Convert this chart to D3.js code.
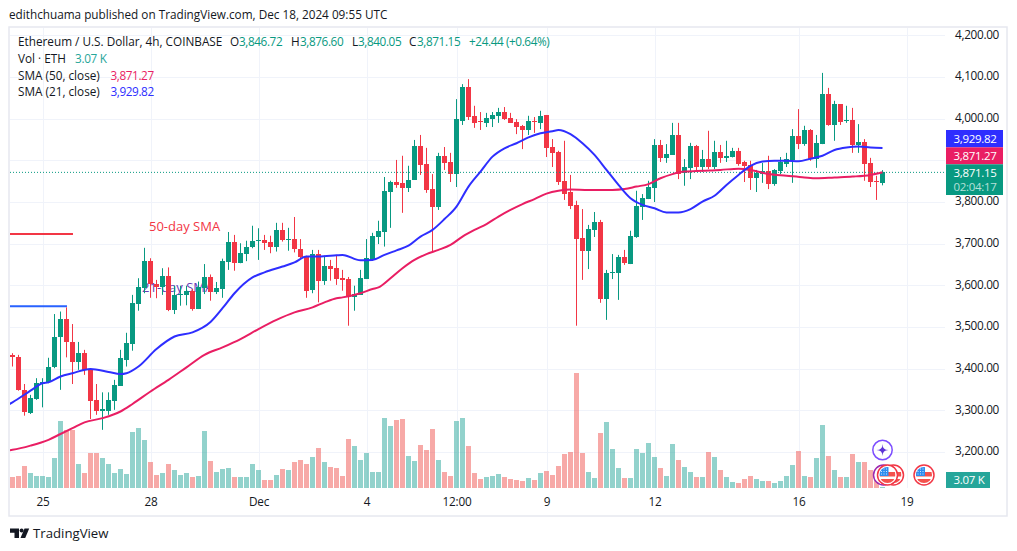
<!DOCTYPE html>
<html><head><meta charset="utf-8">
<script src="https://cdn.jsdelivr.net/npm/d3@7"></script>
<style>
html,body{margin:0;padding:0;background:#fff}
svg{display:block}
text{font-family:"Open Sans",sans-serif;font-size:11.75px}
</style></head><body>
<svg id="c" width="1017" height="551"></svg>
<script>
const opens=[3433,3428,3349,3293,3327,3363,3367,3403,3475,3519,
3464,3415,3438,3399,3325,3297,3299,3323,3359,3421,
3460,3556,3594,3659,3603,3595,3623,3541,3576,3577,
3587,3543,3594,3620,3584,3591,3656,3704,3654,3675,
3691,3707,3709,3704,3692,3733,3709,3711,3687,3671,
3589,3675,3611,3647,3642,3618,3615,3572,3577,3615,
3661,3716,3728,3824,3848,3846,3834,3853,3935,3891,
3831,3788,3911,3896,3867,3995,4076,4007,3995,3990,
3999,4007,4016,4002,3992,3983,3973,3995,3990,4009,
3932,3920,3851,3824,3793,3714,3683,3733,3752,3567,
3630,3630,3668,3651,3716,3788,3807,3834,3937,3906,
3913,3961,3870,3882,3935,3884,3903,3884,3920,3906,
3908,3923,3896,3889,3858,3867,3875,3843,3875,3891,
3901,3959,3939,3973,3903,3939,4059,3985,4035,3995,
3997,3937,3944,3894,3851,3846.72];
const highs=[3437,3433,3363,3337,3377,3377,3426,3531,3537,3547,
3507,3464,3445,3399,3363,3343,3343,3373,3445,3486,
3577,3617,3690,3665,3613,3641,3643,3599,3599,3599,
3591,3609,3651,3626,3608,3664,3728,3721,3701,3707,
3743,3737,3721,3719,3750,3750,3738,3764,3711,3671,
3685,3685,3671,3661,3673,3637,3620,3599,3637,3711,
3726,3755,3860,3851,3901,3911,3887,3949,3961,3930,
3867,3918,3932,3918,4047,4083,4095,4031,4016,4014,
4016,4026,4028,4014,3999,3985,4007,4004,4019,4009,
3951,3923,3947,3865,3803,3783,3745,3776,3757,3637,
3675,3673,3685,3731,3827,3819,3851,3951,3949,3939,
3990,3990,3903,3942,3937,3925,3971,3947,3937,3947,
3930,3930,3899,3899,3877,3894,3911,3879,3908,3918,
3975,4023,3983,3975,3961,4110,4074,4043,4035,4031,
4026,3987,3951,3906,3863,3876.60];
const lows=[3405,3347,3287,3291,3325,3307,3365,3401,3349,3427,
3363,3397,3385,3279,3289,3253,3289,3301,3359,3405,
3443,3539,3581,3570,3569,3577,3538,3531,3551,3552,
3539,3543,3579,3563,3579,3570,3637,3635,3653,3658,
3689,3661,3685,3677,3681,3705,3683,3679,3663,3570,
3581,3559,3601,3611,3601,3587,3503,3539,3577,3615,
3659,3699,3693,3738,3834,3774,3824,3853,3865,3822,
3680,3781,3877,3848,3836,3985,3997,3978,3973,3980,
3980,3990,3997,3990,3963,3927,3961,3966,3975,3908,
3884,3841,3805,3783,3503,3613,3639,3716,3558,3517,
3615,3565,3649,3651,3714,3757,3807,3800,3896,3894,
3913,3855,3839,3855,3872,3872,3879,3879,3894,3896,
3907,3887,3848,3829,3824,3846,3831,3839,3867,3884,
3846,3927,3935,3899,3882,3939,3983,3947,3985,3990,
3918,3918,3851,3836,3805,3840.05];
const closes=[3427,3349,3295,3330,3366,3367,3404,3476,3519,3463,
3415,3438,3396,3323,3297,3303,3325,3361,3426,3462,
3558,3596,3659,3603,3595,3623,3541,3577,3580,3587,
3543,3596,3620,3584,3594,3659,3704,3654,3678,3692,
3707,3709,3702,3692,3733,3709,3711,3687,3668,3587,
3675,3611,3647,3639,3615,3613,3572,3579,3618,3666,
3719,3731,3827,3848,3841,3834,3853,3935,3889,3829,
3788,3911,3894,3867,3999,4076,4004,3990,3992,4002,
4009,4016,3999,3990,3980,3973,3995,3992,4007,3930,
3918,3848,3819,3791,3711,3683,3735,3752,3567,3630,
3632,3668,3654,3719,3791,3810,3836,3937,3906,3915,
3961,3867,3884,3935,3884,3903,3884,3920,3906,3911,
3923,3891,3887,3858,3870,3875,3843,3877,3896,3903,
3959,3939,3973,3903,3942,4059,3985,4035,3992,3997,
3937,3944,3891,3848,3848,3871.15];
const volumes=[28,31,55,38,30,30,28,75,168,145,
145,60,38,88,88,75,60,38,48,35,
140,150,120,65,33,38,60,45,33,38,
28,30,143,68,40,48,50,28,28,28,
60,45,20,20,33,48,45,65,70,60,
78,100,65,53,50,30,123,105,70,88,
40,40,175,155,170,173,80,68,108,95,
148,70,40,30,168,175,105,38,23,28,
30,35,28,23,20,18,25,20,38,43,
33,55,85,90,288,88,40,25,138,165,
98,50,25,25,98,88,113,78,50,30,
110,70,53,40,28,28,90,78,45,28,
15,13,23,30,23,18,18,13,18,30,
58,93,30,28,75,158,80,45,28,28,
85,65,65,45,45,3.07];
const sma21Index=[-1,0,3,5,6,8,10,13,16,18,19,21,24,27,30,33,35,37,40,42,45,47,49,51,54,55,58,60,62,64,66,68,70,72,74,76,78,80,82,84,86,88,90,91,93,95,97,99,101,103,105,107,109,111,113,115,117,119,121,123,125,127,129,131,133,135,137,139,141,143,145];
const sma21=[3311,3319,3347,3365,3367,3381,3389,3399,3392,3387,3389,3405,3447,3477,3487,3512,3545,3581,3619,3631,3645,3655,3669,3669,3672,3673,3660,3661,3673,3684,3695,3717,3733,3759,3789,3837,3873,3909,3929,3941,3955,3965,3970,3973,3963,3941,3913,3877,3841,3809,3793,3785,3775,3775,3783,3801,3815,3841,3865,3887,3897,3899,3899,3898,3904,3911,3925,3931,3933,3931,3929.82];
const sma50Index=[-1,0,3,6,8,10,12,15,18,20,23,26,29,32,35,38,41,44,47,50,52,54,55,58,60,61,63,65,67,69,71,73,75,77,79,81,83,85,87,89,91,93,96,98,100,102,104,106,108,110,112,115,118,121,123,126,129,132,134,137,140,143,145];
const sma50=[3203,3205,3215,3229,3243,3257,3271,3281,3297,3315,3345,3373,3403,3433,3451,3471,3495,3517,3535,3547,3559,3569,3571,3581,3591,3595,3617,3641,3661,3675,3685,3697,3717,3733,3747,3765,3781,3795,3807,3820,3827,3830,3829,3829,3829,3831,3837,3843,3857,3867,3873,3875,3877,3880,3877,3867,3863,3859,3857,3859,3861,3865,3871.27];
const timeTickIndex=[5,23,41,59,74,89,107,131,149];
const timeTickLabels=["25","28","Dec","4","12:00","9","12","16","19"];
const priceTicks=[4200,4100,4000,3900,3800,3700,3600,3500,3400,3300,3200];
const hiddenPriceLabels=[3900];
const trendLines=[{label:"50-day SMA",price:3723,from:-1,to:10.08,labelIndex:22.75,labelPrice:3731,color:"#F23645",text:"#F23645"},
                  {label:"21-day SMA",price:3550,from:-1,to:9.08,labelIndex:21.6,labelPrice:3584,color:"#2962FF",text:"#673AB7"}];
const headerText="edithchuama published on TradingView.com, Dec 18, 2024 09:55 UTC";
const legendTitle="Ethereum / U.S. Dollar, 4h, COINBASE";
const ohlcLetters=["O","H","L","C"];
const ohlcValues=["3,846.72","3,876.60","3,840.05","3,871.15"];
const ohlcChange="+24.44 (+0.64%)";
const volLabel="Vol · ETH", volValue="3.07 K";
const smaLabels=["SMA (50, close)","SMA (21, close)"];
const smaValues=["3,871.27","3,929.82"];
const countdown="02:04:17";

const GREEN="#089981",RED="#F23645",VG="rgba(38,166,154,.5)",VR="rgba(239,83,80,.5)";
const BLUE="#2E2EFF",PINK="#E91E63",GRID="#F0F3FA",INK="#131722";
const L=10,R=945,T=28,B=488;
const svg=d3.select("#c");
const x=d3.scaleLinear().domain([0,145]).range([12.5,882.5]);
const y=d3.scaleLinear().domain([3800,4200]).range([202,35.4]);
const v=d3.scaleLinear().domain([0,288]).range([B,373]);
const n=closes.length,I=d3.range(n);
const defs=svg.append("defs");
defs.append("clipPath").attr("id","pane").append("rect").attr("x",L).attr("y",T).attr("width",R-L).attr("height",B-T+1);

// frame
svg.append("rect").attr("x",9).attr("y",27).attr("width",998).attr("height",489).attr("fill","#fff").attr("stroke","#E6E8EF").attr("stroke-width",1.5);

// grid + axes
const gx=svg.append("g").attr("transform",`translate(0,${B})`)
  .call(d3.axisBottom(x).tickValues(timeTickIndex).tickSize(B-T).tickPadding(7).tickFormat((d,i)=>timeTickLabels[i]));
gx.select(".domain").remove();
gx.selectAll("line").attr("y2",-(B-T)).attr("stroke",GRID).attr("shape-rendering","crispEdges");
gx.selectAll("text").attr("y",14.5).attr("dy",".32em").attr("fill",INK).style("font-size","11.75px").style("letter-spacing","-.2px");
const gy=svg.append("g").attr("transform",`translate(${R},0)`)
  .call(d3.axisRight(y).tickValues(priceTicks).tickSize(0).tickPadding(10).tickFormat(d3.format(",.2f")));
gy.select(".domain").remove();
gy.selectAll("line").attr("x2",-(R-L)).attr("stroke",GRID).attr("shape-rendering","crispEdges");
gy.selectAll("text").attr("y",-1).attr("fill",INK).style("font-size","11.75px").style("letter-spacing","-.3px");
gy.selectAll(".tick").filter(d=>hiddenPriceLabels.includes(d)).select("text").remove();

const pane=svg.append("g").attr("clip-path","url(#pane)");
// annotations under the candles
trendLines.forEach(t=>{
  pane.append("line").attr("x1",x(t.from)).attr("x2",x(t.to)).attr("y1",y(t.price)).attr("y2",y(t.price)).attr("stroke",t.color).attr("stroke-width",2);
  pane.append("text").attr("x",x(t.labelIndex)).attr("y",y(t.labelPrice)).attr("fill",t.text).style("font-size","13px").text(t.label);
});
// volume
pane.selectAll(".vol").data(I).join("rect").attr("class","vol")
  .attr("x",i=>x(i)-2.5).attr("width",5)
  .attr("y",i=>Math.round(v(volumes[i]))).attr("height",i=>B-Math.round(v(volumes[i])))
  .attr("fill",i=>closes[i]>=opens[i]?VG:VR);
// wicks & bodies
const col=i=>closes[i]>=opens[i]?GREEN:RED;
pane.selectAll(".wick").data(I).join("rect").attr("class","wick")
  .attr("x",i=>x(i)-.5).attr("width",1)
  .attr("y",i=>y(highs[i])).attr("height",i=>y(lows[i])-y(highs[i])).attr("fill",col);
pane.selectAll(".body").data(I).join("rect").attr("class","body")
  .attr("x",i=>x(i)-2.5).attr("width",5)
  .attr("y",i=>Math.round(y(Math.max(opens[i],closes[i]))))
  .attr("height",i=>Math.max(1,Math.round(y(Math.min(opens[i],closes[i])))-Math.round(y(Math.max(opens[i],closes[i])))))
  .attr("fill",col);
// last price line
pane.append("line").attr("x1",L).attr("x2",R).attr("y1",y(closes[n-1])).attr("y2",y(closes[n-1]))
  .attr("stroke",GREEN).attr("stroke-dasharray","1 2").attr("stroke-width",1);
// SMA lines
const ln=d3.line().x(d=>x(d[0])).y(d=>y(d[1])).curve(d3.curveMonotoneX);
pane.append("path").attr("d",ln(d3.zip(sma50Index,sma50))).attr("fill","none").attr("stroke",PINK).attr("stroke-width",2);
pane.append("path").attr("d",ln(d3.zip(sma21Index,sma21))).attr("fill","none").attr("stroke",BLUE).attr("stroke-width",2);

// icons
const cx=x(145);
function star(px,py){
  svg.append("circle").attr("cx",px).attr("cy",py).attr("r",9.7).attr("fill","#fff").attr("stroke","#7C4DFF").attr("stroke-width",1.5);
  const s=d3.path(),r=6;
  s.moveTo(px,py-r);s.quadraticCurveTo(px,py,px+r,py);s.quadraticCurveTo(px,py,px,py+r);s.quadraticCurveTo(px,py,px-r,py);s.quadraticCurveTo(px,py,px,py-r);
  svg.append("path").attr("d",s.toString()).attr("fill","#5E35D6");
}
function flag(px,py,ring){
  const id="f"+Math.round(px);
  defs.append("clipPath").attr("id",id).append("circle").attr("cx",px).attr("cy",py).attr("r",8);
  svg.append("circle").attr("cx",px).attr("cy",py).attr("r",10).attr("fill","#fff").attr("stroke",ring).attr("stroke-width",1.5);
  const g=svg.append("g").attr("clip-path",`url(#${id})`);
  g.append("rect").attr("x",px-8).attr("y",py-8).attr("width",16).attr("height",16).attr("fill","#fff");
  g.append("rect").attr("x",px-8).attr("y",py-3).attr("width",16).attr("height",4.5).attr("fill","#F4524D");
  g.append("rect").attr("x",px-8).attr("y",py+4).attr("width",16).attr("height",4).attr("fill","#F4524D");
  g.append("rect").attr("x",px-8).attr("y",py-8).attr("width",9).attr("height",9).attr("fill","#2E8DEF");
  d3.range(3).forEach(a=>d3.range(3).forEach(b=>g.append("rect").attr("x",px-6.5+a*2.5).attr("y",py-6.5+b*2.5).attr("width",1).attr("height",1).attr("fill","#CFE6FF")));
}
star(cx,450);
svg.append("circle").attr("cx",cx+1).attr("cy",475).attr("r",10).attr("fill","#fff").attr("stroke","#9C27B0").attr("stroke-width",1.5);
flag(cx+11,475,RED);flag(cx+5,475,RED);flag(924,475,RED);

// right tags
const tags=[{y:130,h:17.3,c:BLUE,t:smaValues[1]},{y:147.3,h:17,c:PINK,t:smaValues[0]},{y:164.3,h:30.7,c:GREEN,t:ohlcValues[3]}];
tags.forEach(t=>{
  svg.append("rect").attr("x",946).attr("y",t.y).attr("width",57).attr("height",t.h).attr("fill",t.c);
});
// tag labels sized to stay inside their rows
const tagText=(px,py,c,t)=>svg.append("text").attr("x",px).attr("y",py).attr("dy",".35em").attr("fill",c).style("font-size","11.5px").style("letter-spacing","-.3px").text(t);
tags.forEach(t=>tagText(953.5,t.y+8.6,"#fff",t.t));
tagText(953.5,187,"#B5E0D9",countdown);
svg.append("rect").attr("x",946).attr("y",472).attr("width",44).attr("height",16).attr("fill","#26A69A");
tagText(953.5,480,"#fff",volValue);

// header + legend
svg.append("text").attr("x",9).attr("y",15).attr("dy",".35em").attr("fill",INK).text(headerText);
const row=(px,py,c,t,ls)=>svg.append("text").attr("x",px).attr("y",py).attr("dy",".35em").attr("fill",c).style("letter-spacing",ls||"0").text(t);
row(18,42,INK,legendTitle);
[230,291,352,409].forEach((px,i)=>row(px,42,INK,ohlcLetters[i]));
[239,300,358,417].forEach((px,i)=>row(px,42,GREEN,ohlcValues[i],"-.4px"));
row(469,42,GREEN,ohlcChange,"-.4px");
row(18,59,INK,volLabel);row(75,59,"#26A69A",volValue,"-.3px");
row(18,75.5,INK,smaLabels[0]);row(110.5,75.5,PINK,smaValues[0],"-.4px");
row(18,92,INK,smaLabels[1]);row(110.5,92,BLUE,smaValues[1],"-.4px");

// footer logo
const lg=svg.append("g").attr("fill",INK);
lg.append("path").attr("d","M10 528.5h9v9.5h-4.5v-5.2h-4.5z");
lg.append("circle").attr("cx",21.6).attr("cy",530.6).attr("r",2);
lg.append("path").attr("d","M24.5 528.5h4.7l-4 9.5h-4.7z");
svg.append("text").attr("x",33).attr("y",533.5).attr("dy",".35em").attr("fill",INK).style("font-size","13.2px").text("TradingView");
</script>
</body></html>
